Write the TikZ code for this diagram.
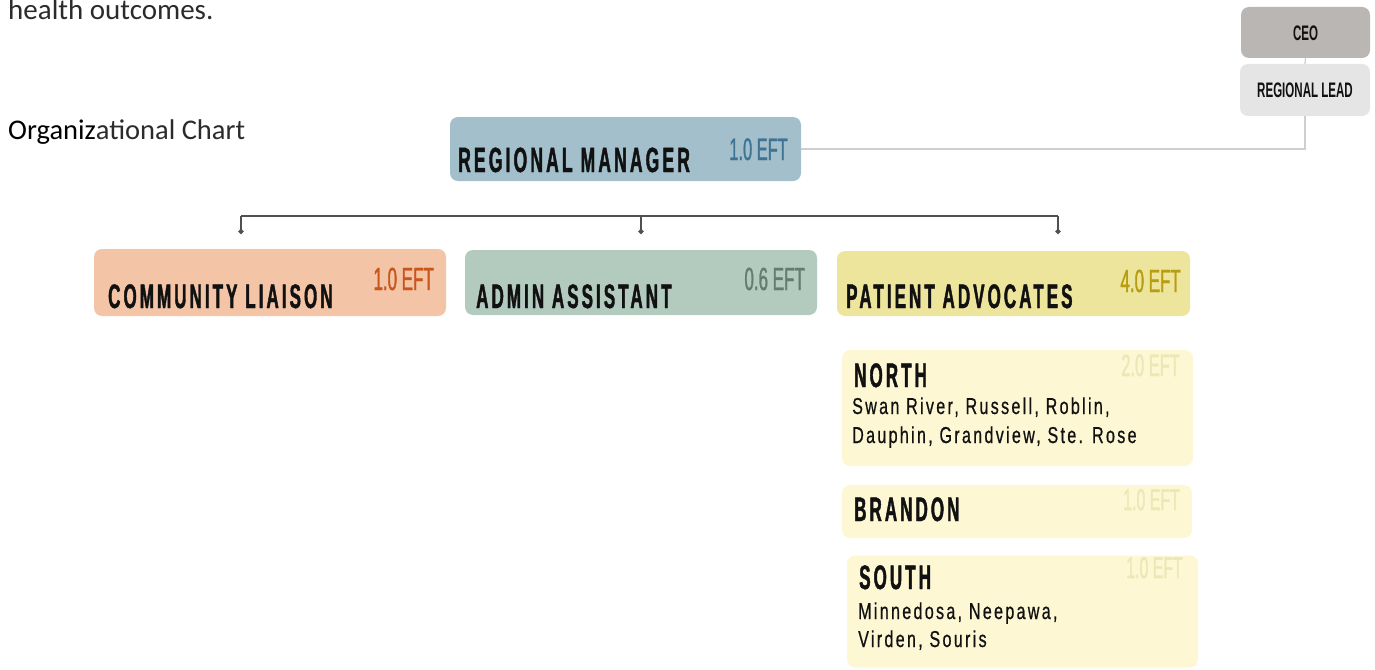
\documentclass[tikz,border=0pt]{standalone}
\usepackage{fontspec}
\setmainfont{Carlito}
\newfontfamily\headfont{Liberation Sans}[FakeStretch=0.5,LetterSpace=9,FakeBold=1.2]
\newfontfamily\tightfont{Liberation Sans}[FakeStretch=0.55]
\newfontfamily\eftfont{Liberation Sans}[FakeStretch=0.53,FakeBold=1]
\newfontfamily\subfont{Liberation Sans}[FakeStretch=0.7,LetterSpace=10,FakeBold=0.6]
\usetikzlibrary{arrows.meta}

\definecolor{ink}{HTML}{111111}
\definecolor{bodytext}{HTML}{2B2B2B}
\definecolor{rmfill}{HTML}{A2BFCB}
\definecolor{rmeft}{HTML}{3E7393}
\definecolor{clfill}{HTML}{F3C4A6}
\definecolor{cleft}{HTML}{C8561C}
\definecolor{aafill}{HTML}{B3CBBF}
\definecolor{aaeft}{HTML}{637C70}
\definecolor{pafill}{HTML}{EDE59C}
\definecolor{paeft}{HTML}{B89C12}
\definecolor{subfill}{HTML}{FDF7D3}
\definecolor{subeft}{HTML}{EDE7B6}
\definecolor{ceofill}{HTML}{B9B6B3}
\definecolor{rlfill}{HTML}{E5E5E5}
\definecolor{topline}{HTML}{CFCFCF}
\definecolor{busline}{HTML}{505050}

\tikzset{
  box/.style={rounded corners=8pt, draw=none, inner sep=0pt},
  lbl/.style={inner sep=0pt, anchor=base west, text=ink},
  eft/.style={inner sep=0pt, anchor=base east},
  head/.style={font=\headfont\bfseries\fontsize{#1}{#1}\selectfont},
  efttext/.style={font=\eftfont\fontsize{#1}{#1}\selectfont},
  sub/.style={font=\subfont\fontsize{23}{23}\selectfont},
  topconn/.style={draw=topline, line width=1.3pt},
  busconn/.style={draw=busline, line width=1.6pt},
  drop/.style={busconn, -{Circle[length=5pt]}},
}

\begin{document}
\begin{tikzpicture}[x=1pt,y=-1pt]
\useasboundingbox (0,0) rectangle (1375,669);

% running text above the chart
\node[inner sep=0pt, anchor=base west, text=bodytext, font=\fontsize{29}{29}\selectfont] (intro) at (8,20) {health outcomes.};
\node[inner sep=0pt, anchor=base west, text=bodytext, font=\fontsize{28.5}{28.5}\selectfont] (title) at (8,139) {\textcolor{black}{Organiz}ational Chart};

% top of the hierarchy
\node[box, fill=ceofill, minimum width=129pt, minimum height=51pt] (ceo) at (1305.5,32.5) {};
\node[box, fill=rlfill, minimum width=130pt, minimum height=52pt] (rl) at (1305,90) {};
\node[inner sep=0pt, text=ink, font=\tightfont\bfseries\fontsize{21}{21}\selectfont] (ceot) at (1305.5,33) {CEO};
\node[inner sep=0pt, text=ink, font=\tightfont\bfseries\fontsize{21}{21}\selectfont] (rlt) at (1305,90) {REGIONAL LEAD};

% regional manager
\node[box, fill=rmfill, minimum width=351pt, minimum height=64pt] (rm) at (625.5,149) {};
\node[lbl, head=35] (rmt) at (458,172) {REGIONAL MANAGER};
\node[eft, efttext=31, text=rmeft] (rme) at (788,160) {1.0 EFT};

% second level
\node[box, fill=clfill, minimum width=352pt, minimum height=67pt] (cl) at (270,282.5) {};
\node[lbl, head=34] (clt) at (108,308) {COMMUNITY LIAISON};
\node[eft, efttext=32, text=cleft] (cle) at (434,290) {1.0 EFT};

\node[box, fill=aafill, minimum width=352pt, minimum height=65pt] (aa) at (641,282.5) {};
\node[lbl, head=34] (aat) at (476,308) {ADMIN ASSISTANT};
\node[eft, efttext=32, text=aaeft] (aae) at (805,290) {0.6 EFT};

\node[box, fill=pafill, minimum width=353pt, minimum height=65pt] (pa) at (1013.5,283.5) {};
\node[lbl, head=34] (pat) at (846,308) {PATIENT ADVOCATES};
\node[eft, efttext=32, text=paeft] (pae) at (1181,292) {4.0 EFT};

% patient advocate regions
\node[box, fill=subfill, minimum width=351pt, minimum height=116pt] (north) at (1017.5,408) {};
\node[lbl, head=34] (northt) at (854,387) {NORTH};
\node[lbl, sub] (northp1) at (852,414) {Swan River, Russell, Roblin,};
\node[lbl, sub] (northp2) at (852,443) {Dauphin, Grandview, Ste. Rose};
\node[eft, efttext=31, text=subeft] (northe) at (1180,376) {2.0 EFT};

\node[box, fill=subfill, minimum width=350pt, minimum height=53pt] (brandon) at (1017,511.5) {};
\node[lbl, head=34] (brandont) at (854,521) {BRANDON};
\node[eft, efttext=30, text=subeft] (brandone) at (1180,510) {1.0 EFT};

\node[box, fill=subfill, minimum width=351pt, minimum height=112pt] (south) at (1022.5,611.5) {};
\node[lbl, head=34] (southt) at (859,589) {SOUTH};
\node[lbl, sub] (southp1) at (858,619) {Minnedosa, Neepawa,};
\node[lbl, sub] (southp2) at (858,647) {Virden, Souris};
\node[eft, efttext=30, text=subeft] (southe) at (1183,578) {1.0 EFT};

% reporting line to the regional lead
\draw[topconn] (ceo.south) -- (rl.north);
\draw[topconn] (rl.south) |- (rm.east);

% distribution bus to the second level
\coordinate (busl) at (241,216);
\coordinate (busm) at (641,216);
\coordinate (busr) at (1058,216);
\coordinate (dropl) at (241,234);
\coordinate (dropm) at (641,234);
\coordinate (dropr) at (1058,234);
\draw[busconn] (busl) -- (busr);
\draw[drop] (busl) -- (dropl);
\draw[drop] (busm) -- (dropm);
\draw[drop] (busr) -- (dropr);
\end{tikzpicture}
\end{document}
